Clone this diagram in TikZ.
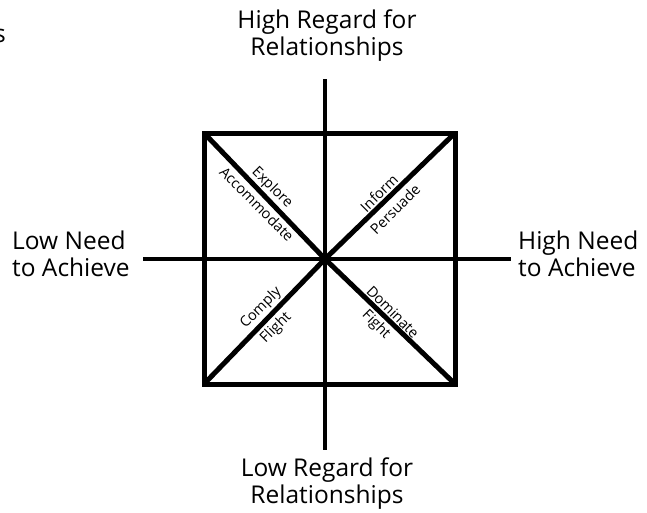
\documentclass[tikz,border=0pt]{standalone}
\usepackage{fontspec}
\setmainfont{Open Sans}
\begin{document}
\begin{tikzpicture}[x=1pt,y=-1pt,
  axis/.style={line width=4pt},
  box/.style={line width=5pt, line join=miter},
  biglabel/.style={font=\fontsize{24.5}{27}\selectfont, inner sep=0pt, anchor=base},
  diaglabel/.style={font=\fontsize{14.5}{15}\selectfont, inner sep=0pt}]
\useasboundingbox (0,0) rectangle (647,512);
% points
\coordinate (c) at (325,259);
\coordinate (tl) at (204,133);
\coordinate (tr) at (455,133);
\coordinate (br) at (455,384);
\coordinate (bl) at (204,384);
\coordinate (atop) at (325,79);
\coordinate (abot) at (325,450);
\coordinate (aleft) at (143,259);
\coordinate (aright) at (511,259);
% axes
\draw[axis] (atop) -- (abot);
\draw[axis] (aleft) -- (aright);
% square and diagonals
\draw[box] (tl) -- (tr) -- (br) -- (bl) -- cycle;
\draw[box] (tl) -- (c);
\draw[box] (tr) -- (c);
\draw[box] (br) -- (c);
\draw[box] (bl) -- (c);
% axis labels
\node[biglabel, align=center] (ht) at (327,55) {High Regard for\\Relationships};
\node[biglabel, align=center] (lb) at (327,503) {Low Regard for\\Relationships};
\node[biglabel, align=left, anchor=base west] (ll) at (12,276) {Low Need\\to Achieve};
\node[biglabel, align=left, anchor=base west] (rr) at (518,276) {High Need\\to Achieve};
\node[biglabel, anchor=base east] (s) at (6,42) {s};
% diagonal labels
\node[diaglabel, rotate=-45] (ex) at (272,188) {Explore};
\node[diaglabel, rotate=-45] (ac) at (257,204) {Accommodate};
\node[diaglabel, rotate=45] (in) at (379,193) {Inform};
\node[diaglabel, rotate=45] (pe) at (395,209) {Persuade};
\node[diaglabel, rotate=45] (co) at (261,308) {Comply};
\node[diaglabel, rotate=45] (fl) at (276,328) {Flight};
\node[diaglabel, rotate=-45] (do) at (393,312) {Dominate};
\node[diaglabel, rotate=-45] (fi) at (376,325) {Fight};
\end{tikzpicture}
\end{document}
